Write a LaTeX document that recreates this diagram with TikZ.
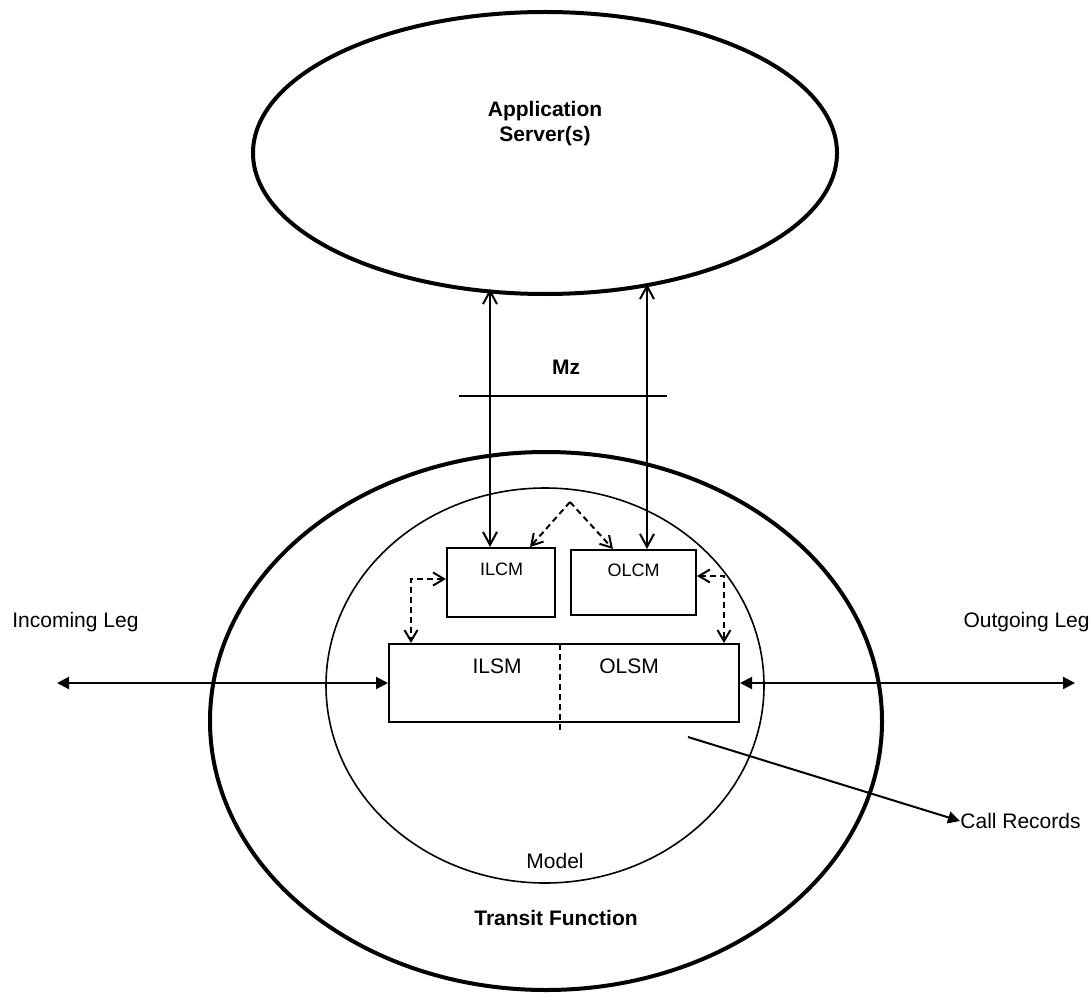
\documentclass[tikz,border=0pt]{standalone}
\usepackage{fontspec}
\setmainfont{Liberation Sans}
\usetikzlibrary{shapes.geometric,arrows.meta}
\begin{document}
\begin{tikzpicture}[x=0.5pt,y=-0.5pt,
  thickell/.style={draw,ellipse,line width=2pt,inner sep=0pt},
  thinell/.style={draw,ellipse,line width=0.8pt,inner sep=0pt},
  boxx/.style={draw,rectangle,line width=1pt,inner sep=0pt},
  txt/.style={inner sep=0pt,font=\fontsize{10.5}{12.5}\selectfont},
  btxt/.style={txt,font=\fontsize{10.5}{12.5}\selectfont\bfseries,align=center},
  stxt/.style={inner sep=0pt,font=\fontsize{9}{11}\selectfont},
  conn/.style={line width=1pt},
  varr/.style={conn,{Straight Barb[length=6.5pt,width=7pt]}-{Straight Barb[length=6.5pt,width=7pt]}},
  darr/.style={conn,dash pattern=on 3pt off 2pt},
  farr/.style={conn,{Triangle[length=6pt,width=6pt]}-{Triangle[length=6pt,width=6pt]}}
]
\useasboundingbox (0,0) rectangle (1091,1000);

% ellipses
\node[thickell,minimum width=292pt,minimum height=141pt] (as) at (545,153) {};
\node[btxt] (astxt) at (545,124) {Application\\Server(s)};
\node[thickell,minimum width=336pt,minimum height=269pt] (tf) at (546,721) {};
\node[btxt] (tftxt) at (556,918) {Transit Function};
\node[thinell,minimum width=219pt,minimum height=197.5pt] (model) at (545,685.5) {};
\node[txt] (modeltxt) at (555,861) {Model};

% boxes
\node[boxx,minimum width=54pt,minimum height=34.5pt] (ilcm) at (501,582.5) {};
\node[stxt] (ilcmtxt) at (501.5,569) {ILCM};
\node[boxx,minimum width=62.5pt,minimum height=32.5pt] (olcm) at (633.5,582.5) {};
\node[stxt] (olcmtxt) at (633.5,570) {OLCM};
\node[boxx,minimum width=175pt,minimum height=39pt] (lsm) at (564,683) {};
\node[txt] (ilsmtxt) at (497,666) {ILSM};
\node[txt] (olsmtxt) at (629,666) {OLSM};
\coordinate (divt) at (560,644);
\coordinate (divb) at (560,730);
\draw[darr] (divt) -- (divb);

% Mz
\coordinate (mzl) at (459,396);
\coordinate (mzr) at (667,396);
\draw[conn] (mzl) -- (mzr);
\node[btxt] (mz) at (566,367) {Mz};

% vertical arrows
\coordinate (a1) at (490,289);
\coordinate (a2) at (647,284);
\draw[varr] (a1) -- (ilcm.north -| a1);
\draw[varr] (a2) -- (olcm.north -| a2);

% dashed apex arrows
\coordinate (apex) at (570,502);
\coordinate (ilcmin) at (530,0);
\coordinate (olcmin) at (613,0);
\draw[darr,-{Straight Barb[length=5.5pt,width=6.5pt]}] (apex) -- (ilcm.north -| ilcmin);
\draw[darr,-{Straight Barb[length=5.5pt,width=6.5pt]}] (apex) -- (olcm.north -| olcmin);

% dashed elbows
\coordinate (cl) at (411,579);
\coordinate (cr) at (724,576);
\draw[darr,{Straight Barb[length=5.5pt,width=6.5pt]}-{Straight Barb[length=5.5pt,width=6.5pt]}] (ilcm.west |- cl) -- (cl) -- (lsm.north -| cl);
\draw[darr,{Straight Barb[length=5.5pt,width=6.5pt]}-{Straight Barb[length=5.5pt,width=6.5pt]}] (olcm.east |- cr) -- (cr) -- (lsm.north -| cr);

% legs
\node[txt,anchor=west] (inleg) at (12,622) {Incoming Leg};
\node[txt,anchor=east] (outleg) at (1090,622) {Outgoing Leg};
\coordinate (inl) at (57,683);
\coordinate (outr) at (1075,683);
\draw[farr] (inl) -- (lsm.west);
\draw[farr] (lsm.east) -- (outr);

% call records
\coordinate (crs) at (688,737);
\node[txt,anchor=west] (callrec) at (960,821) {Call Records};
\draw[conn,-{Triangle[length=6pt,width=6pt]}] (crs) -- (callrec.west);
\end{tikzpicture}
\end{document}
